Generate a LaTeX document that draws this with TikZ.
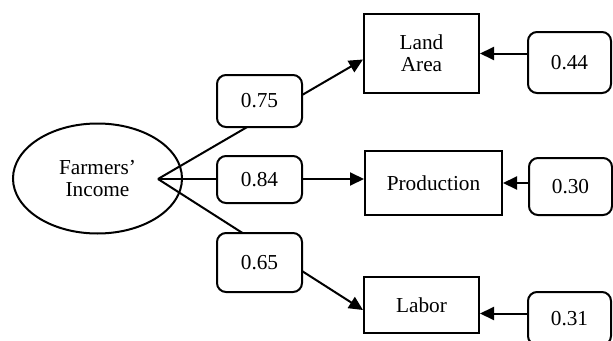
\documentclass[tikz,border=0pt]{standalone}
\usepackage{fontspec}
\setmainfont{Liberation Serif}
\usetikzlibrary{arrows.meta}
\usetikzlibrary{shapes.geometric,backgrounds}

\begin{document}
\begin{tikzpicture}[x=1pt, y=-1pt,
  every node/.style={font=\fontsize{21.3}{22}\selectfont, align=center, inner sep=0pt},
  latent/.style={draw, line width=2pt, ellipse, minimum width=169pt, minimum height=110pt},
  indicator/.style={draw, line width=2pt, rectangle},
  coef/.style={draw, line width=2pt, rounded corners=9pt, fill=white, minimum width=85pt},
  link/.style={line width=2pt, -{Triangle[length=14pt,width=13pt]}}]
\useasboundingbox (0,0) rectangle (613,340);
% latent variable
\node[latent] (income) at (97.5,178.5) {Farmers’\\Income};
\coordinate (hub) at (158,179);
% indicators
\node[indicator, minimum width=115pt, minimum height=79pt] (land) at (421.5,53.5) {Land\\Area};
\node[indicator, minimum width=137pt, minimum height=64pt] (prod) at (433.5,183) {Production};
\node[indicator, minimum width=115pt, minimum height=56pt] (labor) at (421.5,305) {Labor};
% errors
\node[coef, minimum width=83pt, minimum height=61pt] (err1) at (569.5,62.5) {0.44};
\node[coef, minimum width=83pt, minimum height=57pt] (err2) at (570.5,186.5) {0.30};
\node[coef, minimum width=83pt, minimum height=53pt] (err3) at (569.5,318.5) {0.31};
% loadings
\node[coef, minimum height=52pt] (l1) at (259.5,101) {0.75};
\node[coef, minimum height=47pt] (l2) at (259.5,179.5) {0.84};
\node[coef, minimum height=59pt] (l3) at (259.5,262.5) {0.65};
\begin{scope}[on background layer]
\draw[link] (hub) -- ([yshift=-6pt]land.west);
\draw[link] (hub) -- (hub -| prod.west);
\draw[link] (hub) -- ([yshift=-5pt]labor.west);
\draw[link] (err1.west |- land.east) -- (land.east);
\draw[link] (err2.west |- prod.east) -- (prod.east);
\draw[link] ([yshift=5pt]err3.west) -- ([yshift=5pt]err3.west -| labor.east);
\end{scope}
\end{tikzpicture}
\end{document}
